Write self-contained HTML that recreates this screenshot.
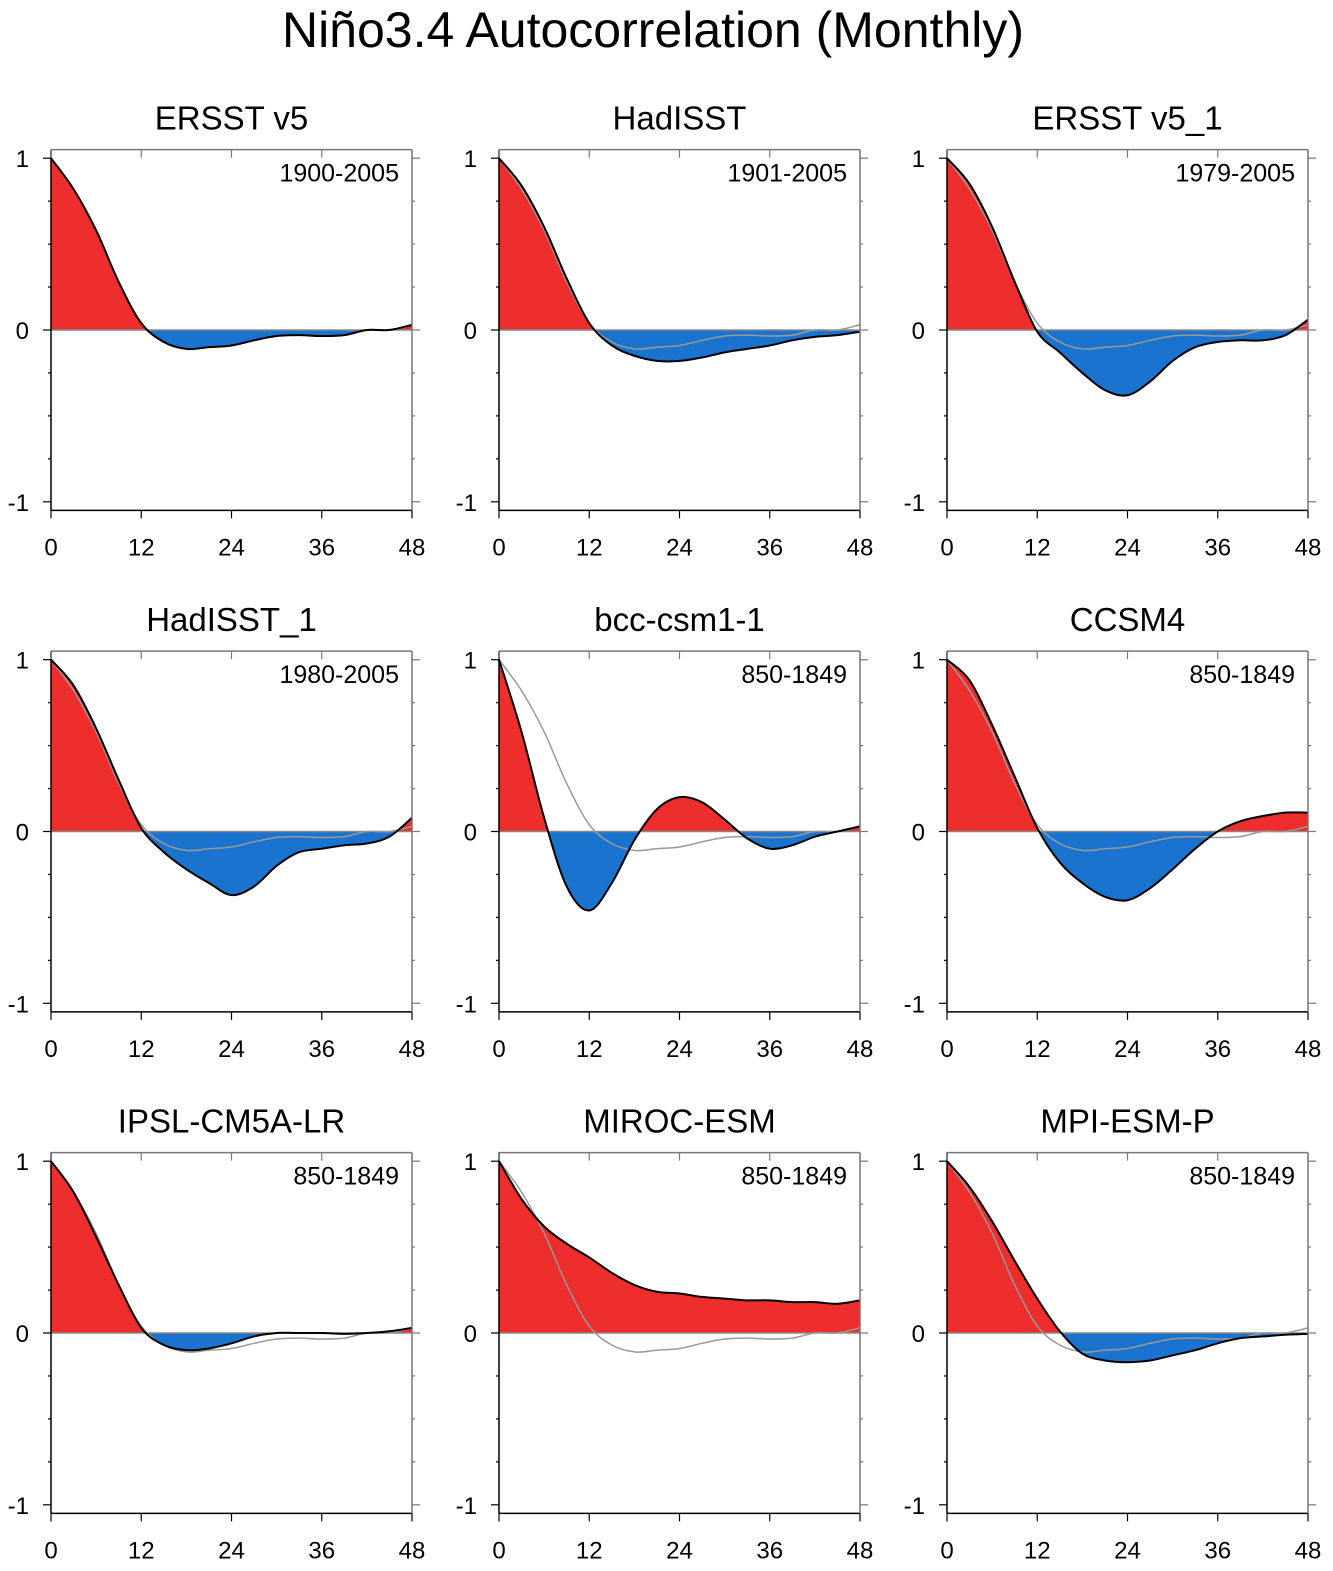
<!DOCTYPE html>
<html><head><meta charset="utf-8"><style>
html,body{margin:0;padding:0;background:#fff;overflow:hidden;width:1333px;height:1571px;}
svg{display:block;}
svg text{font-family:"Liberation Sans",sans-serif;}
</style></head><body>
<svg id="chart" width="1333" height="1571" xmlns="http://www.w3.org/2000/svg">
<text x="653" y="47" font-size="50" text-anchor="middle">Niño3.4 Autocorrelation (Monthly)</text>
</svg>
<script>
const lags = [0,3,6,9,12,15,18,21,24,27,30,33,36,39,42,45,48];
const refSeries = [1,0.82,0.58,0.28,0.04,-0.07,-0.11,-0.10,-0.09,-0.06,-0.035,-0.03,-0.035,-0.03,0,0,0.03];
const titles = ["ERSST v5","HadISST","ERSST v5_1","HadISST_1","bcc-csm1-1","CCSM4","IPSL-CM5A-LR","MIROC-ESM","MPI-ESM-P"];
const periods = ["1900-2005","1901-2005","1979-2005","1980-2005","850-1849","850-1849","850-1849","850-1849","850-1849"];
const sERSST = [1,0.82,0.58,0.28,0.04,-0.07,-0.11,-0.10,-0.09,-0.06,-0.035,-0.03,-0.035,-0.03,0,0,0.03];
const sHad = [1,0.84,0.6,0.3,0.04,-0.09,-0.15,-0.18,-0.18,-0.16,-0.13,-0.11,-0.09,-0.06,-0.04,-0.03,-0.01];
const sERSST1 = [1,0.85,0.6,0.28,-0.01,-0.13,-0.25,-0.35,-0.38,-0.3,-0.18,-0.1,-0.07,-0.06,-0.06,-0.03,0.06];
const sHad1 = [1,0.85,0.6,0.3,0.02,-0.12,-0.22,-0.3,-0.37,-0.32,-0.2,-0.12,-0.1,-0.08,-0.07,-0.03,0.08];
const sBcc = [1,0.58,0.08,-0.32,-0.46,-0.3,-0.05,0.13,0.2,0.17,0.07,-0.04,-0.1,-0.08,-0.03,0,0.03];
const sCcsm = [1,0.88,0.62,0.32,0.02,-0.18,-0.3,-0.38,-0.4,-0.33,-0.22,-0.1,0,0.06,0.09,0.11,0.11];
const sIpsl = [1,0.82,0.56,0.28,0.03,-0.07,-0.1,-0.09,-0.06,-0.02,0,0,0,-0.005,0,0.01,0.03];
const sMiroc = [1,0.78,0.62,0.52,0.44,0.35,0.28,0.24,0.23,0.21,0.2,0.19,0.19,0.18,0.18,0.17,0.19];
const sMpi = [1,0.85,0.65,0.42,0.2,0.01,-0.12,-0.16,-0.17,-0.16,-0.13,-0.1,-0.06,-0.03,-0.02,-0.01,-0.005];
const series = [sERSST,sHad,sERSST1,sHad1,sBcc,sCcsm,sIpsl,sMiroc,sMpi];
const xTicks = [0,12,24,36,48];
const yTicks = [-1,0,1];

const NS="http://www.w3.org/2000/svg";
const svg=document.getElementById('chart');
function mk(tag,attrs,parent){const e=document.createElementNS(NS,tag);for(const k in attrs)e.setAttribute(k,attrs[k]);(parent||svg).appendChild(e);return e;}
const colX=[51,499,947], rowZero=[330,831.5,1333];
const W=361, U=171.8;
function curve(pts){
  let d=`M${pts[0][0]},${pts[0][1]}`;
  for(let i=0;i<pts.length-1;i++){
    const p0=pts[Math.max(0,i-1)],p1=pts[i],p2=pts[i+1],p3=pts[Math.min(pts.length-1,i+2)];
    const c1=[p1[0]+(p2[0]-p0[0])/6,p1[1]+(p2[1]-p0[1])/6];
    const c2=[p2[0]-(p3[0]-p1[0])/6,p2[1]-(p3[1]-p1[1])/6];
    d+=` C${c1[0]},${c1[1]} ${c2[0]},${c2[1]} ${p2[0]},${p2[1]}`;
  }
  return d;
}
for(let p=0;p<9;p++){
  const x0=colX[p%3], z=rowZero[Math.floor(p/3)];
  const xs=v=>x0+v/48*W, ys=v=>z-v*U;
  const top=ys(1.05), bot=ys(-1.05);
  const g=mk('g',{});
  
  
  const pts=lags.map((l,i)=>[xs(l),ys(series[p][i])]);
  const d=curve(pts);
  const area=d+` L${xs(48)},${z} L${xs(0)},${z} Z`;
  const cid='c'+p;
  const cp=mk('clipPath',{id:cid+'a'},g); mk('rect',{x:x0,y:top,width:W,height:z-top},cp);
  const cp2=mk('clipPath',{id:cid+'b'},g); mk('rect',{x:x0,y:z,width:W,height:bot-z},cp2);
  const ra=mk('path',{d:area,fill:'#ee2d2d','clip-path':`url(#${cid}a)`},g);
  
  
  const ba=mk('path',{d:area,fill:'#1a74cf','clip-path':`url(#${cid}b)`},g);
  
  
  const zl=mk('line',{x1:x0,x2:x0+W,y1:z,y2:z,stroke:'#888','stroke-width':1.5},g);
  
  
  const rpts=lags.map((l,i)=>[xs(l),ys(refSeries[i])]);
  const rl=mk('path',{d:curve(rpts),fill:'none',stroke:'#999','stroke-width':1.5},g);
  
  
  const ml=mk('path',{d:d,fill:'none',stroke:'#000','stroke-width':2},g);
  
  
  mk('line',{x1:x0,x2:x0+W,y1:top,y2:top,stroke:'#777','stroke-width':1.5},g);
  mk('line',{x1:x0,x2:x0+W,y1:bot,y2:bot,stroke:'#000','stroke-width':1.5},g);
  mk('line',{x1:x0,x2:x0,y1:top,y2:bot,stroke:'#000','stroke-width':1.5},g);
  mk('line',{x1:x0+W,x2:x0+W,y1:top,y2:bot,stroke:'#777','stroke-width':1.5},g);
  for(let v=-1;v<=1.001;v+=0.25){
    const major=Math.abs(v-Math.round(v))<1e-6;
    const L=major?8:3;
    mk('line',{x1:x0-L,x2:x0,y1:ys(v),y2:ys(v),stroke:'#000','stroke-width':1.2},g);
    mk('line',{x1:x0+W,x2:x0+W+L,y1:ys(v),y2:ys(v),stroke:'#777','stroke-width':1.2},g);
  }
  yTicks.forEach(v=>{
    const t=mk('text',{x:x0-22,y:ys(v)+9,'font-size':24,'text-anchor':'end'},g);
    t.textContent=String(v);
    
    
  });
  xTicks.forEach(v=>{
    mk('line',{x1:xs(v),x2:xs(v),y1:bot,y2:bot+8,stroke:'#000','stroke-width':1.2},g);
    mk('line',{x1:xs(v),x2:xs(v),y1:top,y2:top+8,stroke:'#777','stroke-width':1.2},g);
    const t=mk('text',{x:xs(v),y:bot+45,'font-size':24,'text-anchor':'middle'},g);
    t.textContent=String(v);
    
    
  });
  const tt=mk('text',{x:x0+W/2,y:top-20,'font-size':33,'text-anchor':'middle'},g);
  tt.textContent=titles[p];
  
  
  const pt=mk('text',{x:x0+W-13,y:top+32,'font-size':25,'text-anchor':'end'},g);
  pt.textContent=periods[p];
  
  
}
</script>
</body></html>
